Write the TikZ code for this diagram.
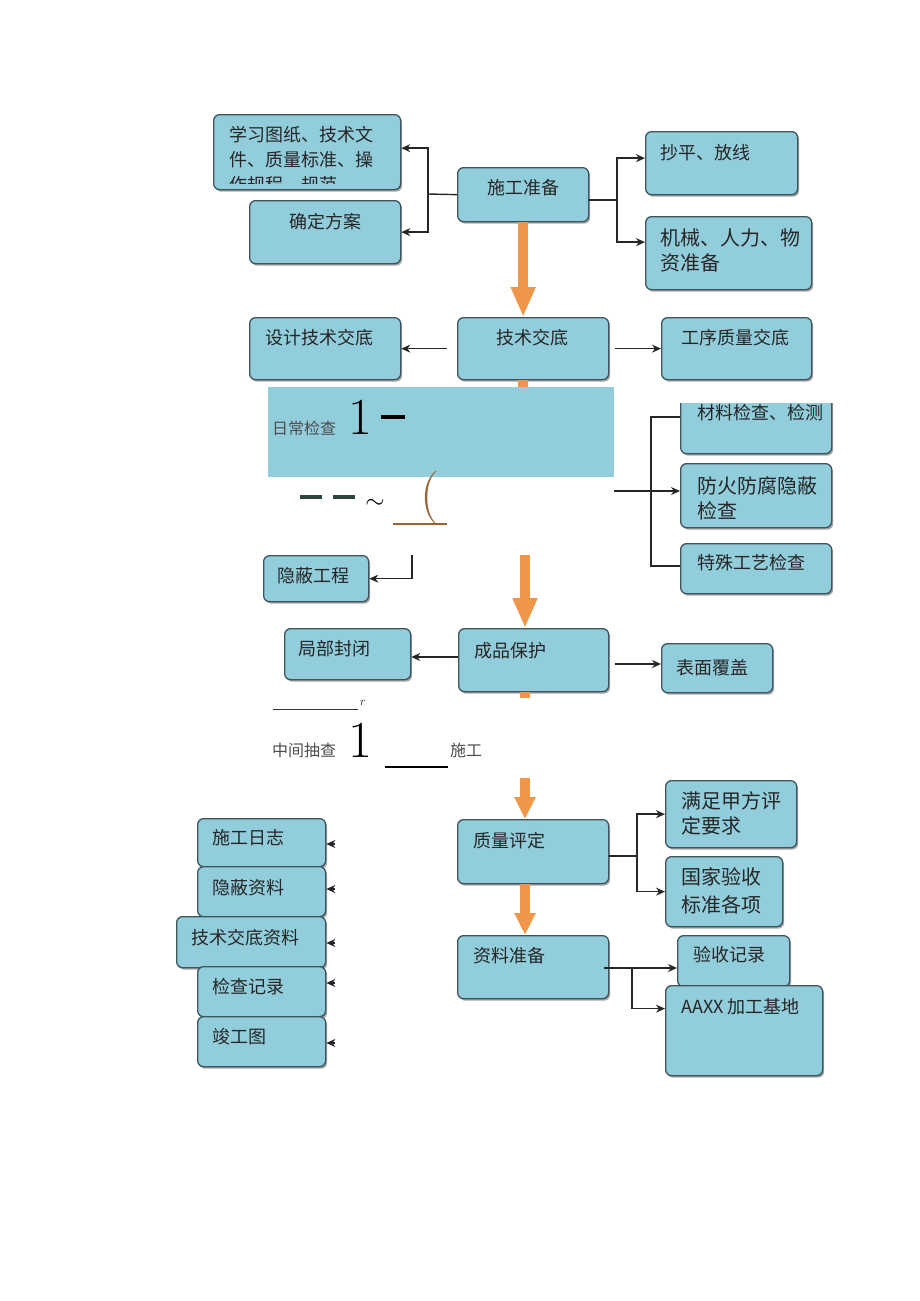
\documentclass[tikz,border=0pt]{standalone}
\usepackage{fontspec}
\newfontfamily\cjk{Noto Sans CJK SC}
\usetikzlibrary{positioning, calc, arrows.meta, shadows}

\definecolor{boxblue}{RGB}{146,205,220}
\definecolor{boxline}{RGB}{62,84,94}
\definecolor{flow}{RGB}{240,150,72}
\definecolor{dashgreen}{RGB}{45,70,60}
\definecolor{paren}{RGB}{150,100,55}

\tikzset{
  blk/.style={draw=boxline, fill=boxblue, line width=1.3pt, rounded corners=6pt,
    anchor=north west, inner sep=0pt,
    drop shadow={shadow xshift=1.5pt, shadow yshift=-2pt, opacity=.35, fill=black}},
  txt/.style={font=\cjk\fontsize{18}{25}\selectfont, text=black!85, inner sep=0pt,
    align=left, anchor=north west},
  wtxt/.style={txt, font=\cjk\fontsize{20}{25}\selectfont},
  note/.style={font=\cjk\fontsize{16}{16}\selectfont, text=black!70, inner sep=0pt, anchor=west},
  big/.style={font=\fontsize{52}{52}\selectfont, inner sep=0pt, anchor=base},
  link/.style={->, >={Stealth[length=9pt, width=8pt]}, line width=1.4pt, black!85},
  wire/.style={line width=1.4pt, black!85},
  flowarrow/.style={draw=flow, line width=10pt, -{Triangle[length=30pt, width=23pt]}},
}

\begin{document}
\begin{tikzpicture}[x=1pt, y=-1pt]

  \path[use as bounding box, fill=white] (0,0) rectangle (920,1301);

  \node[blk, minimum width=187, minimum height=75] (xxtz) at (213,114) {};
  \node[txt] (xxtz-t) at (229,126) {学习图纸、技术文\\件、质量标准、操};
  \begin{scope}
    \clip (215,172) rectangle (398,183);
    \node[txt] (xxtz-c) at (229,176) {作规程、规范};
  \end{scope}
  \node[blk, minimum width=151, minimum height=63] (qdfa) at (249,200) {};
  \node[txt] (qdfa-t) at (289,213) {确定方案};
  \node[blk, minimum width=131, minimum height=54] (sgzb) at (457,167) {};
  \node[txt] (sgzb-t) at (487,179) {施工准备};
  \node[blk, minimum width=152, minimum height=63] (cpfx) at (645,131) {};
  \node[txt] (cpfx-t) at (660,144) {抄平、放线};
  \node[blk, minimum width=166, minimum height=73] (jxrl) at (645,216) {};
  \node[wtxt] (jxrl-t) at (660,228) {机械、人力、物\\资准备};

  \node[blk, minimum width=151, minimum height=62] (sjjd) at (249,317) {};
  \node[txt] (sjjd-t) at (265,329) {设计技术交底};
  \node[blk, minimum width=151, minimum height=62] (jsjd) at (457,317) {};
  \node[txt] (jsjd-t) at (496,329) {技术交底};
  \node[blk, minimum width=150, minimum height=62] (gxjd) at (661,317) {};
  \node[txt] (gxjd-t) at (681,329) {工序质量交底};

  \begin{scope}
    \clip (670,403) rectangle (845,470);
    \node[blk, minimum width=151, minimum height=68] (cljc) at (680,385) {};
    \node[txt] (cljc-t) at (697,404) {材料检查、检测};
  \end{scope}
  \node[blk, minimum width=151, minimum height=64] (fhjc) at (680,463) {};
  \node[wtxt] (fhjc-t) at (697,476) {防火防腐隐蔽\\检查};
  \node[blk, minimum width=151, minimum height=50] (tsgy) at (680,543) {};
  \node[txt] (tsgy-t) at (697,554) {特殊工艺检查};

  \node[blk, minimum width=105, minimum height=46] (yjgc) at (263,555) {};
  \node[txt] (yjgc-t) at (277,567) {隐蔽工程};

  \node[blk, minimum width=126, minimum height=51] (jbfb) at (284,628) {};
  \node[txt] (jbfb-t) at (298,640) {局部封闭};
  \node[blk, minimum width=150, minimum height=63] (cpbh) at (458,628) {};
  \node[txt] (cpbh-t) at (474,642) {成品保护};
  \node[blk, minimum width=111, minimum height=49] (bmfg) at (661,643) {};
  \node[txt] (bmfg-t) at (676,659) {表面覆盖};

  \node[blk, minimum width=151, minimum height=64] (zlpd) at (457,819) {};
  \node[txt] (zlpd-t) at (473,832) {质量评定};
  \node[blk, minimum width=131, minimum height=67] (mzjf) at (665,780) {};
  \node[wtxt] (mzjf-t) at (681,791) {满足甲方评\\定要求};
  \node[blk, minimum width=117, minimum height=70] (gjys) at (665,856) {};
  \node[wtxt, font=\cjk\fontsize{20}{28}\selectfont] (gjys-t) at (681,867) {国家验收\\标准各项};
  \node[blk, minimum width=151, minimum height=63] (zlzb) at (457,935) {};
  \node[txt] (zlzb-t) at (473,947) {资料准备};
  \node[blk, minimum width=112, minimum height=51] (ysjl) at (677,935) {};
  \node[txt] (ysjl-t) at (693,946) {验收记录};
  \node[blk, minimum width=157, minimum height=90] (aaxx) at (665,985) {};
  \node[txt] (aaxx-t) at (681,998) {AAXX 加工基地};

  \node[blk, minimum width=128, minimum height=48] (sgrz) at (197,818) {};
  \node[txt] (sgrz-t) at (212,829) {施工日志};
  \node[blk, minimum width=128, minimum height=50] (ybzl) at (197,866) {};
  \node[txt] (ybzl-t) at (212,879) {隐蔽资料};
  \node[blk, minimum width=149, minimum height=51] (jszl) at (176,916) {};
  \node[txt] (jszl-t) at (191,929) {技术交底资料};
  \node[blk, minimum width=128, minimum height=50] (jcjl) at (197,966) {};
  \node[txt] (jcjl-t) at (212,978) {检查记录};
  \node[blk, minimum width=128, minimum height=50] (jgt) at (197,1016) {};
  \node[txt] (jgt-t) at (212,1028) {竣工图};

  \draw[draw=flow, line width=10pt] (jsjd.south -| sgzb.south) -- ++(0,8);
  \node[fill=boxblue, minimum width=346, minimum height=90, anchor=north west, inner sep=0pt] (rcjc) at (268,387) {};
  \node[note] (rcjc-t) at (272,428) {日常检查};
  \node[big] (one-a) at (360,434) {1};
  \node[inner sep=0pt, anchor=west] (dash-a) at (381,417) {\rule[-2pt]{24pt}{4pt}};
  \node[inner sep=0pt, anchor=west, text=dashgreen] (dash-b) at (300,497)
    {\rule[-2pt]{22pt}{4pt}\hspace{11pt}\rule[-2pt]{22pt}{4pt}};
  \node[big, font=\fontsize{26}{26}\selectfont] (tilde) at (375,508) {$\sim$};
  \node[big, text=paren, font=\fontsize{54}{54}\selectfont] (paren) at (430,511) {(};
  \draw[paren, line width=2.2pt] (393,524) -- (447,524);

  \draw[black!80, line width=.8pt] (273,709) -- (358,709);
  \node[font=\fontsize{12}{12}\selectfont, inner sep=0pt] (r) at (363,703) {$r$};
  \node[note] (zjcc-t) at (272,750) {中间抽查};
  \node[big] (one-b) at (360,757) {1};
  \draw[black, line width=2.8pt] (385,767) -- (448,767);
  \node[note] (sg-t) at (450,750) {施工};

  \coordinate (jl) at (428,194);
  \draw[wire] (sgzb.west) -- (jl);
  \draw[link] (jl) |- ($(xxtz.east)+(0,-4)$);
  \draw[link] (jl) |- (qdfa.east);
  \coordinate (jr) at (617,200);
  \draw[wire] (sgzb.east |- jr) -- (jr);
  \draw[link] (jr) |- ($(cpfx.west)+(0,-5)$);
  \draw[link] (jr) |- ($(jxrl.west)+(0,-11)$);

  \draw[link, shorten <=10pt] (jsjd.west) -- (sjjd.east);
  \draw[link, shorten <=6pt] (jsjd.east) -- (gxjd.west);

  \coordinate (rr) at (614,491);
  \draw[link] (rr) -- (fhjc.west |- rr);
  \coordinate (bt) at (651,417);
  \coordinate (bb) at (651,566);
  \draw[wire] (cljc.west |- bt) -- (bt) -- (bb) -- (tsgy.west |- bb);

  \coordinate (yj) at (412,555);
  \draw[link] (yj) |- (yjgc.east);

  \draw[link] (cpbh.west |- 0,657) -- (jbfb.east |- 0,657);
  \draw[link, shorten <=6pt] (cpbh.east |- 0,664) -- (bmfg.west |- 0,664);

  \coordinate (qj) at (637,856);
  \draw[wire] (zlpd.east |- qj) -- (qj);
  \draw[link] (qj) |- (mzjf.west);
  \draw[link] (qj) |- (gjys.west);

  \coordinate (zj) at (632,968);
  \draw[link] (604,968) -- (ysjl.west |- zj);
  \draw[link] (zj) |- ($(aaxx.west)+(0,-22)$);

  \foreach \n/\y in {sgrz/844, ybzl/889, jszl/943, jcjl/983, jgt/1043}
    \draw[link] (335,\y) -- (\n.east |- 0,\y);

  \draw[flowarrow] (sgzb.south) -- (sgzb.south |- jsjd.north);
  \coordinate (o2) at (525,555);
  \draw[flowarrow] (o2) -- (o2 |- cpbh.north);
  \draw[draw=flow, line width=10pt] (o2 |- cpbh.south) -- ++(0,6);
  \coordinate (o3) at (525,778);
  \draw[flowarrow, -{Triangle[length=22pt, width=20pt]}] (o3) -- (o3 |- zlpd.north);
  \draw[flowarrow, -{Triangle[length=22pt, width=20pt]}] (o3 |- zlpd.south) -- (o3 |- zlzb.north);

\end{tikzpicture}
\end{document}
